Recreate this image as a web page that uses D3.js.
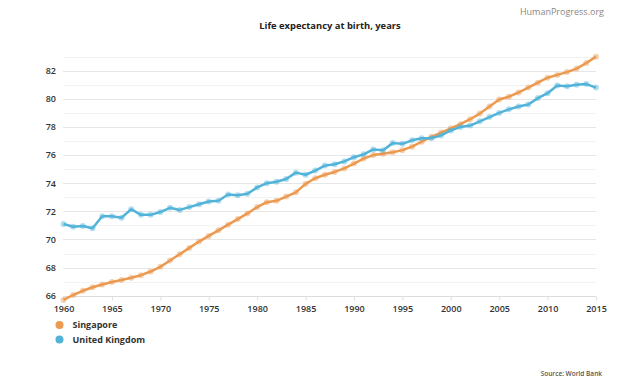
<!DOCTYPE html>
<html><head><meta charset="utf-8">
<script src="https://cdn.jsdelivr.net/npm/d3@7"></script>
<style>
body{margin:0;background:#fff;}
svg{display:block;font-family:"Open Sans",sans-serif;}
</style></head>
<body>
<svg id="c" width="624" height="386"></svg>
<script>
const years = d3.range(1960, 2016);
const singapore = [65.7,66.05,66.35,66.6,66.8,66.97,67.12,67.28,67.46,67.72,
68.05,68.5,68.95,69.4,69.85,70.25,70.65,71.05,71.45,71.85,
72.3,72.65,72.75,73.05,73.35,73.95,74.35,74.6,74.8,75.05,
75.4,75.75,76.0,76.1,76.2,76.35,76.6,76.95,77.3,77.6,
77.9,78.2,78.55,78.95,79.45,79.95,80.15,80.45,80.8,81.15,
81.5,81.7,81.9,82.15,82.55,83.0];
const unitedKingdom = [71.1,70.9,70.95,70.8,71.65,71.65,71.55,72.15,71.75,71.75,
71.95,72.25,72.1,72.3,72.5,72.7,72.75,73.2,73.15,73.25,
73.7,74.0,74.1,74.3,74.75,74.6,74.9,75.25,75.35,75.55,
75.85,76.05,76.4,76.35,76.85,76.8,77.05,77.2,77.2,77.4,
77.75,78.0,78.1,78.4,78.7,79.0,79.25,79.45,79.6,80.05,
80.4,80.95,80.9,81.0,81.05,80.8];
const seriesNames = ["Singapore","United Kingdom"];
const seriesColors = ["#eb9a50","#52b3d9"];
const xTicks = [1960,1965,1970,1975,1980,1985,1990,1995,2000,2005,2010,2015];
const yTicks = [66,68,70,72,74,76,78,80,82];
const yMinor = [67,69,71,73,75,77,79,81,83];
const title = "Life expectancy at birth, years";

const svg = d3.select("#c");
const x = d3.scaleLinear().domain([1960,2015]).range([63.5,596]);
const y = d3.scaleLinear().domain([66,82]).range([295.7,70.7]);

// minor gridlines
svg.append("g").selectAll("line").data(yMinor).join("line")
  .attr("x1",63).attr("x2",596)
  .attr("y1",d=>Math.round(y(d))+0.5).attr("y2",d=>Math.round(y(d))+0.5)
  .attr("stroke","#f3f3f3").attr("stroke-width",1);
// major gridlines
svg.append("g").selectAll("line").data(yTicks.filter(d=>d>66)).join("line")
  .attr("x1",63).attr("x2",596)
  .attr("y1",d=>Math.round(y(d))+0.5).attr("y2",d=>Math.round(y(d))+0.5)
  .attr("stroke","#e6e6e6").attr("stroke-width",1);

// y axis labels
const yAxis = d3.axisLeft(y).tickValues(yTicks).tickSize(0).tickPadding(0);
const gy = svg.append("g").attr("transform","translate(56,0)").call(yAxis);
gy.select(".domain").remove();
gy.selectAll("text").attr("fill","#333").attr("font-size","9px").attr("font-weight","600")
  .attr("font-family","'Open Sans',sans-serif").attr("dy","0.32em");

// x axis
const xAxis = d3.axisBottom(x).tickValues(xTicks).tickFormat(d3.format("d")).tickSize(4).tickPadding(5);
const gx = svg.append("g").attr("transform",`translate(0,${Math.round(y(66))+0.5})`).call(xAxis);
gx.select(".domain").attr("stroke","#dcdcdc").attr("d","M63,0H596");
gx.selectAll(".tick line").attr("stroke","#e0e0e0");
gx.selectAll("text").attr("fill","#333").attr("font-size","9px").attr("font-weight","600")
  .attr("font-family","'Open Sans',sans-serif");

// series
const data = [singapore, unitedKingdom];
const line = d3.line().x((d,i)=>x(years[i])).y(d=>y(d));
data.forEach((vals,k)=>{
  const g = svg.append("g");
  g.append("path").datum(vals).attr("d",line).attr("fill","none")
    .attr("stroke",seriesColors[k]).attr("stroke-width",2.5).attr("stroke-linejoin","round");
  g.selectAll("circle").data(vals).join("circle")
    .attr("cx",(d,i)=>x(years[i])).attr("cy",d=>y(d)).attr("r",3)
    .attr("fill",seriesColors[k]).attr("fill-opacity",0.45);
});

// title
svg.append("text").attr("x",330).attr("y",28.5).attr("text-anchor","middle")
  .attr("font-size","9.4px").attr("font-weight","700").attr("fill","#222").text(title);
// credit
svg.append("text").attr("x",604).attr("y",15).attr("text-anchor","end")
  .attr("font-size","9px").attr("fill","#888").text("HumanProgress.org");
// legend
seriesNames.forEach((n,k)=>{
  const ly = 325 + k*14.5;
  svg.append("circle").attr("cx",59.5).attr("cy",ly).attr("r",4).attr("fill",seriesColors[k]);
  svg.append("text").attr("x",72.5).attr("y",ly).attr("dy","0.35em")
    .attr("font-size","9px").attr("font-weight","700").attr("fill","#333").text(n);
});
// source
svg.append("text").attr("x",602).attr("y",376).attr("text-anchor","end")
  .attr("font-size","6.5px").attr("font-weight","600").attr("fill","#555").text("Source: World Bank");
</script>
</body></html>
